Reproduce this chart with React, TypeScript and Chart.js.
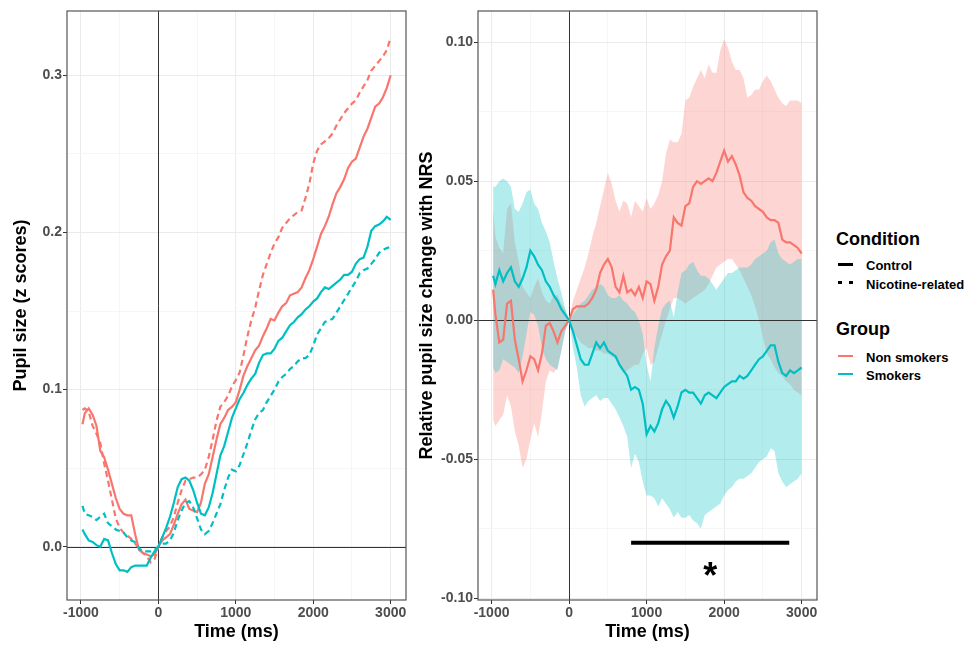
import React, { useEffect, useRef } from 'react';
import { Chart, registerables } from 'chart.js';

Chart.register(...registerables);

// ---------------- data ----------------
const time = [-980, -950, -900, -850, -800, -750, -700, -650, -600, -550, -500, -450, -400, -350, -300, -250, -200, -150, -100, -50, 0, 50, 100, 150, 200, 250, 300, 350, 400, 450, 500, 550, 600, 650, 700, 750, 800, 850, 900, 950, 1000, 1050, 1100, 1150, 1200, 1250, 1300, 1350, 1400, 1450, 1500, 1550, 1600, 1650, 1700, 1750, 1800, 1850, 1900, 1950, 2000, 2050, 2100, 2150, 2200, 2250, 2300, 2350, 2400, 2450, 2500, 2550, 2600, 2650, 2700, 2750, 2800, 2850, 2900, 2950, 3000];

// Left panel: pupil size (z scores)
const pupilNonSmokersControl = [0.078, 0.085, 0.088, 0.084, 0.077, 0.061, 0.057, 0.049, 0.040, 0.031,
  0.024, 0.021, 0.020, 0.020, 0.008, -0.002, -0.004, -0.005, -0.006, -0.005,
  0.000, 0.004, 0.006, 0.008, 0.014, 0.021, 0.027, 0.030, 0.024, 0.023,
  0.022, 0.028, 0.040, 0.046, 0.057, 0.068, 0.078, 0.082, 0.087, 0.089,
  0.092, 0.100, 0.109, 0.115, 0.120, 0.125, 0.128, 0.134, 0.139, 0.145,
  0.144, 0.149, 0.153, 0.155, 0.160, 0.161, 0.162, 0.165, 0.171, 0.176,
  0.183, 0.191, 0.199, 0.204, 0.210, 0.218, 0.225, 0.229, 0.234, 0.241,
  0.245, 0.247, 0.254, 0.261, 0.266, 0.273, 0.280, 0.282, 0.286, 0.292, 0.300];
const pupilNonSmokersNicotine = [0.087, 0.088, 0.086, 0.077, 0.072, 0.066, 0.053, 0.042, 0.030, 0.018,
  0.012, 0.009, 0.007, 0.005, 0.002, -0.001, -0.004, -0.006, -0.010, -0.008,
  0.000, 0.006, 0.010, 0.013, 0.019, 0.028, 0.036, 0.042, 0.043, 0.044,
  0.044, 0.046, 0.049, 0.057, 0.068, 0.080, 0.089, 0.092, 0.096, 0.102,
  0.106, 0.111, 0.122, 0.134, 0.144, 0.152, 0.163, 0.173, 0.180, 0.187,
  0.193, 0.197, 0.203, 0.206, 0.209, 0.211, 0.213, 0.214, 0.222, 0.231,
  0.244, 0.252, 0.256, 0.258, 0.260, 0.263, 0.268, 0.272, 0.276, 0.279,
  0.282, 0.284, 0.289, 0.293, 0.297, 0.303, 0.306, 0.309, 0.312, 0.316, 0.324];
const pupilSmokersControl = [0.011, 0.008, 0.004, 0.003, 0.001, 0.000, 0.005, 0.004, -0.004, -0.011,
  -0.015, -0.015, -0.016, -0.013, -0.012, -0.012, -0.012, -0.012, -0.007, -0.003,
  0.000, 0.006, 0.012, 0.019, 0.028, 0.038, 0.043, 0.044, 0.042, 0.036,
  0.028, 0.021, 0.020, 0.025, 0.034, 0.046, 0.058, 0.064, 0.073, 0.082,
  0.088, 0.094, 0.098, 0.103, 0.107, 0.110, 0.117, 0.122, 0.123, 0.123,
  0.126, 0.131, 0.133, 0.137, 0.141, 0.143, 0.146, 0.148, 0.151, 0.153,
  0.156, 0.158, 0.162, 0.165, 0.164, 0.166, 0.168, 0.170, 0.173, 0.173,
  0.175, 0.180, 0.183, 0.184, 0.191, 0.201, 0.204, 0.205, 0.207, 0.210, 0.208];
const pupilSmokersNicotine = [0.026, 0.021, 0.020, 0.019, 0.017, 0.019, 0.021, 0.015, 0.013, 0.011,
  0.010, 0.009, 0.006, 0.004, 0.003, -0.001, -0.003, -0.003, -0.003, -0.002,
  0.000, 0.002, 0.002, 0.004, 0.009, 0.017, 0.023, 0.028, 0.029, 0.025,
  0.018, 0.011, 0.008, 0.010, 0.015, 0.021, 0.027, 0.036, 0.044, 0.049,
  0.048, 0.052, 0.059, 0.066, 0.074, 0.081, 0.085, 0.087, 0.092, 0.096,
  0.100, 0.105, 0.108, 0.110, 0.113, 0.115, 0.118, 0.120, 0.120, 0.122,
  0.128, 0.135, 0.139, 0.143, 0.144, 0.145, 0.149, 0.153, 0.157, 0.161,
  0.165, 0.169, 0.174, 0.176, 0.177, 0.180, 0.183, 0.187, 0.189, 0.190, 0.191];

// Right panel: relative pupil size change with NRS
const relNonSmokers = [0.011, 0.002, -0.008, -0.007, 0.006, 0.007, -0.007, -0.014, -0.022, -0.018,
  -0.013, -0.014, -0.018, -0.012, -0.002, -0.001, -0.004, -0.008, -0.004, -0.002,
  0.000, 0.004, 0.005, 0.005, 0.005, 0.006, 0.008, 0.011, 0.017, 0.020,
  0.022, 0.019, 0.012, 0.010, 0.016, 0.010, 0.011, 0.009, 0.012, 0.008,
  0.014, 0.013, 0.007, 0.012, 0.020, 0.023, 0.025, 0.037, 0.035, 0.034,
  0.041, 0.042, 0.048, 0.050, 0.049, 0.050, 0.051, 0.050, 0.053, 0.057,
  0.061, 0.057, 0.059, 0.056, 0.052, 0.046, 0.044, 0.043, 0.041, 0.040,
  0.039, 0.037, 0.036, 0.036, 0.035, 0.029, 0.028, 0.028, 0.027, 0.026, 0.024];
const relNonSmokersUpper = [0.040, 0.030, 0.026, 0.024, 0.040, 0.042, 0.028, 0.021, 0.012, 0.010,
  0.008, 0.012, 0.015, 0.010, 0.007, 0.006, 0.009, 0.009, 0.006, 0.004,
  0.000, 0.007, 0.011, 0.015, 0.019, 0.024, 0.030, 0.035, 0.041, 0.047,
  0.053, 0.049, 0.043, 0.039, 0.043, 0.042, 0.037, 0.043, 0.041, 0.039,
  0.044, 0.040, 0.042, 0.045, 0.050, 0.060, 0.065, 0.064, 0.064, 0.067,
  0.079, 0.080, 0.084, 0.087, 0.090, 0.087, 0.092, 0.089, 0.089, 0.097,
  0.101, 0.098, 0.093, 0.090, 0.090, 0.087, 0.080, 0.081, 0.083, 0.083,
  0.086, 0.088, 0.086, 0.083, 0.080, 0.078, 0.077, 0.079, 0.079, 0.079, 0.078];
const relNonSmokersLower = [-0.036, -0.038, -0.036, -0.034, -0.027, -0.031, -0.040, -0.045, -0.053, -0.050,
  -0.043, -0.037, -0.042, -0.033, -0.022, -0.018, -0.019, -0.017, -0.011, -0.004,
  0.000, -0.004, -0.006, -0.008, -0.009, -0.010, -0.010, -0.011, -0.011, -0.012,
  -0.012, -0.013, -0.014, -0.017, -0.019, -0.018, -0.017, -0.016, -0.016, -0.012,
  -0.010, -0.016, -0.015, -0.010, -0.005, 0.000, 0.004, 0.008, 0.008, 0.007,
  0.006, 0.007, 0.008, 0.009, 0.010, 0.011, 0.013, 0.016, 0.019, 0.020,
  0.021, 0.022, 0.022, 0.020, 0.018, 0.015, 0.012, 0.009, 0.005, 0.000,
  -0.006, -0.012, -0.014, -0.017, -0.019, -0.020, -0.022, -0.023, -0.025, -0.026, -0.027];
const relSmokers = [0.016, 0.013, 0.018, 0.014, 0.017, 0.019, 0.014, 0.012, 0.015, 0.019,
  0.025, 0.023, 0.020, 0.018, 0.014, 0.012, 0.009, 0.007, 0.004, 0.002,
  0.000, -0.004, -0.009, -0.014, -0.016, -0.016, -0.012, -0.008, -0.010, -0.008,
  -0.011, -0.012, -0.013, -0.016, -0.018, -0.020, -0.025, -0.024, -0.025, -0.030,
  -0.041, -0.038, -0.040, -0.037, -0.032, -0.029, -0.031, -0.035, -0.031, -0.026,
  -0.025, -0.026, -0.026, -0.028, -0.030, -0.027, -0.026, -0.027, -0.028, -0.026,
  -0.024, -0.023, -0.022, -0.022, -0.020, -0.021, -0.020, -0.018, -0.016, -0.014,
  -0.013, -0.011, -0.009, -0.009, -0.015, -0.019, -0.020, -0.018, -0.019, -0.018, -0.017];
const relSmokersUpper = [0.048, 0.048, 0.050, 0.051, 0.050, 0.048, 0.040, 0.039, 0.042, 0.046,
  0.047, 0.042, 0.040, 0.035, 0.032, 0.028, 0.021, 0.015, 0.010, 0.004,
  0.000, 0.002, 0.004, 0.006, 0.007, 0.009, 0.011, 0.012, 0.013, 0.012,
  0.009, 0.008, 0.008, 0.009, 0.007, 0.006, 0.004, 0.003, 0.000, -0.005,
  -0.016, -0.022, -0.010, -0.002, 0.004, 0.006, 0.007, 0.001, 0.010, 0.017,
  0.018, 0.020, 0.021, 0.018, 0.016, 0.016, 0.015, 0.013, 0.011, 0.013,
  0.015, 0.017, 0.017, 0.018, 0.019, 0.019, 0.019, 0.020, 0.022, 0.023,
  0.024, 0.025, 0.028, 0.029, 0.024, 0.022, 0.021, 0.020, 0.021, 0.022, 0.022];
const relSmokersLower = [-0.017, -0.019, -0.018, -0.014, -0.015, -0.016, -0.017, -0.019, -0.013, -0.005,
  0.003, 0.002, -0.002, -0.010, -0.014, -0.016, -0.017, -0.018, -0.011, -0.004,
  0.000, -0.010, -0.017, -0.027, -0.031, -0.029, -0.028, -0.027, -0.029, -0.028,
  -0.028, -0.030, -0.032, -0.035, -0.038, -0.042, -0.053, -0.048, -0.051, -0.058,
  -0.063, -0.063, -0.064, -0.067, -0.064, -0.066, -0.068, -0.071, -0.069, -0.071,
  -0.071, -0.070, -0.072, -0.073, -0.075, -0.070, -0.069, -0.068, -0.067, -0.066,
  -0.063, -0.061, -0.060, -0.058, -0.057, -0.057, -0.056, -0.055, -0.053, -0.051,
  -0.050, -0.049, -0.046, -0.047, -0.055, -0.058, -0.060, -0.059, -0.058, -0.057, -0.055];

// Significance bar and marker
const sigStart = 800;
const sigEnd = 2840;
const sigLevel = -0.08;
const starTime = 1820;
const starLevel = -0.089;
const starText = '*';

// Ticks
const xMajorTicks = [-1000, 0, 1000, 2000, 3000];
const xTickLabels = ['-1000', '0', '1000', '2000', '3000'];
const xMinorTicks = [-500, 500, 1500, 2500];
const leftYMajorTicks = [0, 0.1, 0.2, 0.3];
const leftYTickLabels = ['0.0', '0.1', '0.2', '0.3'];
const leftYMinorTicks = [0.05, 0.15, 0.25];
const rightYMajorTicks = [-0.1, -0.05, 0, 0.05, 0.1];
const rightYTickLabels = ['-0.10', '-0.05', '0.00', '0.05', '0.10'];
const rightYMinorTicks = [-0.075, -0.025, 0.025, 0.075];

// Text
const xTitle = 'Time (ms)';
const leftYTitle = 'Pupil size (z scores)';
const rightYTitle = 'Relative pupil size change with NRS';
const conditionTitle = 'Condition';
const conditionLabels = ['Control', 'Nicotine-related'];
const groupTitle = 'Group';
const groupLabels = ['Non smokers', 'Smokers'];

// ---------------- styling ----------------
const RED = '#F8766D';
const TEAL = '#00BFC4';
const RED_FILL = 'rgba(248,118,109,0.3)';
const TEAL_FILL = 'rgba(0,191,196,0.3)';
const FONT = '"Liberation Sans", Arial, Helvetica, sans-serif';

Chart.defaults.font.family = FONT;

const pts = (vals: number[]) => time.map((t, i) => ({ x: t, y: vals[i] }));

const near = (a: number, b: number) => Math.abs(a - b) < 1e-9;

function makeAxis(o: {
  min: number; max: number; major: number[]; minor: number[]; labels: string[];
  isX: boolean; fit: number; title: string; titlePad: any;
}) {
  const all = [...o.major, ...o.minor].sort((a, b) => a - b);
  const isMajor = (v: number) => o.major.some((m) => near(m, v));
  return {
    type: 'linear',
    min: o.min,
    max: o.max,
    afterBuildTicks: (scale: any) => {
      scale.ticks = all.map((v) => ({ value: v }));
    },
    afterFit: (scale: any) => {
      if (o.isX) {
        scale.height = o.fit;
        scale.paddingLeft = 0;
        scale.paddingRight = 0;
      } else {
        scale.width = o.fit;
        scale.paddingTop = 0;
        scale.paddingBottom = 0;
      }
    },
    grid: {
      drawTicks: true,
      tickLength: 4,
      color: (ctx: any) => (ctx.tick && isMajor(ctx.tick.value) ? '#EBEBEB' : '#F4F4F4'),
      lineWidth: (ctx: any) => (ctx.tick && isMajor(ctx.tick.value) ? 1 : 0.8),
      tickColor: (ctx: any) => (ctx.tick && isMajor(ctx.tick.value) ? '#333333' : 'rgba(0,0,0,0)'),
      tickWidth: 1,
    },
    border: { display: false },
    ticks: {
      autoSkip: false,
      maxRotation: 0,
      minRotation: 0,
      padding: 1,
      color: '#4D4D4D',
      font: { family: FONT, size: 14, weight: 'bold' },
      callback: (v: number) => {
        const i = o.major.findIndex((m) => near(m, v));
        return i >= 0 ? o.labels[i] : '';
      },
    },
    title: {
      display: true,
      text: o.title,
      color: '#000000',
      font: { family: FONT, size: 18, weight: 'bold' },
      padding: o.titlePad,
    },
  };
}

function makeDecor(opts: { zeroAfterIndex?: number; star?: boolean }) {
  const drawZero = (chart: any) => {
    const { ctx, chartArea: a, scales } = chart;
    const x = scales.x;
    const y = scales.y;
    ctx.save();
    ctx.strokeStyle = '#333333';
    ctx.lineWidth = 1;
    const px = Math.round(x.getPixelForValue(0)) + 0.5;
    const py = Math.round(y.getPixelForValue(0)) + 0.5;
    ctx.beginPath();
    ctx.moveTo(px, a.top);
    ctx.lineTo(px, a.bottom);
    ctx.moveTo(a.left, py);
    ctx.lineTo(a.right, py);
    ctx.stroke();
    ctx.restore();
  };
  return {
    id: 'panelDecor',
    beforeDatasetsDraw(chart: any) {
      if (opts.zeroAfterIndex === undefined) drawZero(chart);
    },
    afterDatasetDraw(chart: any, args: any) {
      if (opts.zeroAfterIndex !== undefined && args.index === opts.zeroAfterIndex) drawZero(chart);
    },
    afterDatasetsDraw(chart: any) {
      const { ctx, chartArea: a, scales } = chart;
      if (opts.star) {
        const size = 36;
        ctx.save();
        ctx.fillStyle = '#000000';
        ctx.font = `bold ${size}px ${FONT}`;
        ctx.textAlign = 'center';
        ctx.textBaseline = 'alphabetic';
        ctx.fillText(starText, scales.x.getPixelForValue(starTime), scales.y.getPixelForValue(starLevel) + size * 0.575);
        ctx.restore();
      }
      ctx.save();
      ctx.strokeStyle = '#555555';
      ctx.lineWidth = 1.2;
      ctx.strokeRect(a.left, a.top, a.right - a.left, a.bottom - a.top);
      ctx.restore();
    },
  };
}

function leftConfig(): any {
  const line = (vals: number[], color: string, dashed: boolean) => ({
    data: pts(vals),
    borderColor: color,
    borderWidth: 2.2,
    borderDash: dashed ? [6, 4] : [],
    pointRadius: 0,
    fill: false,
    tension: 0,
  });
  return {
    type: 'line',
    data: {
      datasets: [
        line(pupilSmokersControl, TEAL, false),
        line(pupilSmokersNicotine, TEAL, true),
        line(pupilNonSmokersControl, RED, false),
        line(pupilNonSmokersNicotine, RED, true),
      ],
    },
    options: {
      responsive: false,
      animation: false,
      events: [],
      layout: { padding: { top: 11, right: 4, left: 0, bottom: 0 } },
      plugins: { legend: { display: false }, tooltip: { enabled: false } },
      scales: {
        x: makeAxis({ min: -1180, max: 3198, major: xMajorTicks, minor: xMinorTicks, labels: xTickLabels, isX: true, fit: 47, title: xTitle, titlePad: { top: 0, bottom: 4 } }),
        y: makeAxis({ min: -0.0339, max: 0.3409, major: leftYMajorTicks, minor: leftYMinorTicks, labels: leftYTickLabels, isX: false, fit: 67, title: leftYTitle, titlePad: { top: 10, bottom: 0 } }),
      },
    },
    plugins: [makeDecor({})],
  };
}

function rightConfig(): any {
  const line = (vals: number[], color: string) => ({
    data: pts(vals),
    borderColor: color,
    borderWidth: 2.2,
    pointRadius: 0,
    fill: false,
    tension: 0,
  });
  const band = (vals: number[], fillColor: string | null) => ({
    data: pts(vals),
    borderWidth: 0,
    borderColor: 'rgba(0,0,0,0)',
    backgroundColor: fillColor || 'rgba(0,0,0,0)',
    pointRadius: 0,
    fill: fillColor ? '+1' : false,
    tension: 0,
  });
  return {
    type: 'line',
    data: {
      datasets: [
        line(relSmokers, TEAL),
        line(relNonSmokers, RED),
        {
          data: [{ x: sigStart, y: sigLevel }, { x: sigEnd, y: sigLevel }],
          borderColor: '#000000',
          borderWidth: 4,
          borderCapStyle: 'butt',
          pointRadius: 0,
          fill: false,
        },
        band(relSmokersUpper, TEAL_FILL),
        band(relSmokersLower, null),
        band(relNonSmokersUpper, RED_FILL),
        band(relNonSmokersLower, null),
      ],
    },
    options: {
      responsive: false,
      animation: false,
      events: [],
      layout: { padding: { top: 11, right: 3, left: 0, bottom: 0 } },
      plugins: { legend: { display: false }, tooltip: { enabled: false }, filler: { propagate: false } },
      scales: {
        x: makeAxis({ min: -1175, max: 3198, major: xMajorTicks, minor: xMinorTicks, labels: xTickLabels, isX: true, fit: 47, title: xTitle, titlePad: { top: 0, bottom: 4 } }),
        y: makeAxis({ min: -0.1006, max: 0.1112, major: rightYMajorTicks, minor: rightYMinorTicks, labels: rightYTickLabels, isX: false, fit: 68, title: rightYTitle, titlePad: { top: 6, bottom: 0 } }),
      },
    },
    plugins: [makeDecor({ zeroAfterIndex: 3, star: true })],
  };
}

// ---------------- legend ----------------
const txt = (top: number, left: number, size: number, text: string) => (
  <div
    style={{
      position: 'absolute', top, left, fontSize: size, lineHeight: `${size}px`, fontWeight: 'bold',
      color: '#000', whiteSpace: 'nowrap', fontFamily: FONT,
    }}
  >
    {text}
  </div>
);

const keyLine = (top: number, color: string, left = 838, width = 15) => (
  <div style={{ position: 'absolute', top: top - 1.25, left, width, height: 2.5, background: color }} />
);

function Legend() {
  return (
    <>
      {txt(230, 836, 18, conditionTitle)}
      {keyLine(264.5, '#000')}
      {txt(259, 866, 13, conditionLabels[0])}
      {keyLine(282.5, '#000', 837.5, 4.5)}
      {keyLine(282.5, '#000', 848.5, 4.5)}
      {txt(277.5, 866, 13, conditionLabels[1])}
      {txt(319.5, 836, 18, groupTitle)}
      {keyLine(356, RED)}
      {txt(350.7, 866, 13, groupLabels[0])}
      {keyLine(374, TEAL)}
      {txt(369, 866, 13, groupLabels[1])}
    </>
  );
}

export default function App() {
  const leftRef = useRef<HTMLCanvasElement | null>(null);
  const rightRef = useRef<HTMLCanvasElement | null>(null);

  useEffect(() => {
    const left = new Chart(leftRef.current as HTMLCanvasElement, leftConfig());
    const right = new Chart(rightRef.current as HTMLCanvasElement, rightConfig());
    return () => {
      left.destroy();
      right.destroy();
    };
  }, []);

  return (
    <div style={{ position: 'absolute', left: 0, top: 0, width: 976, height: 647, background: '#fff', overflow: 'hidden' }}>
      <canvas ref={leftRef} width={410} height={647} style={{ position: 'absolute', left: 0, top: 0, width: 410, height: 647 }} />
      <canvas ref={rightRef} width={410} height={647} style={{ position: 'absolute', left: 410, top: 0, width: 410, height: 647 }} />
      <Legend />
    </div>
  );
}
